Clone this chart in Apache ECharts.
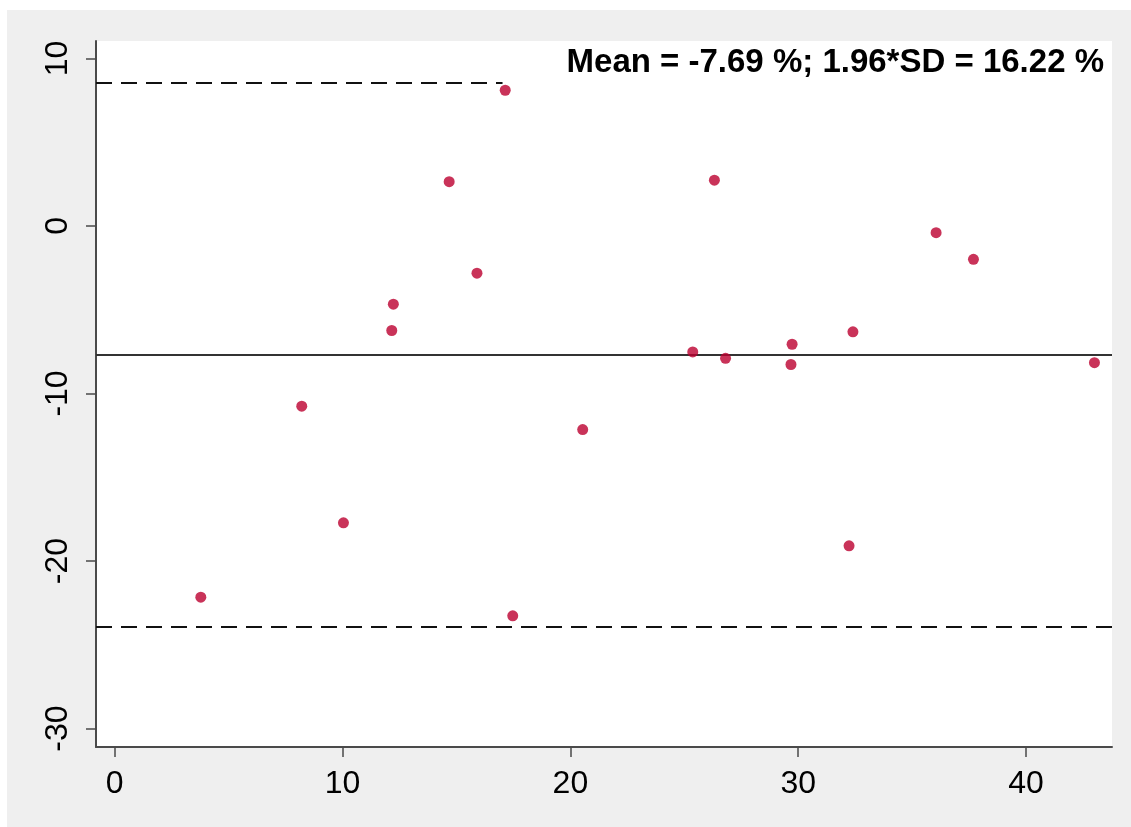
<!DOCTYPE html>
<html>
<head>
<meta charset="utf-8">
<title>Bland-Altman plot</title>
<script src="https://cdn.jsdelivr.net/npm/echarts@6/dist/echarts.min.js"></script>
<style>
  html, body { margin: 0; padding: 0; background: #ffffff; }
  #chart { position: absolute; left: 7px; top: 10px; width: 1124px; height: 817px; }
</style>
</head>
<body>
<div id="chart"></div>
<script>
// Average of the two measurements (x) and their difference in % (y)
const meanValues = [17.14, 14.68, 15.90, 12.23, 12.16, 3.78, 8.21, 10.04, 17.47, 20.54,
                    26.32, 25.37, 26.81, 29.73, 29.68, 32.40, 36.05, 37.69, 43.00, 32.23];
const diffValues = [8.10, 2.64, -2.82, -4.67, -6.24, -22.16, -10.76, -17.72, -23.27, -12.15,
                    2.73, -7.52, -7.90, -7.06, -8.27, -6.32, -0.40, -1.99, -8.16, -19.09];

// Summary statistics
const meanDiff = -7.69;
const sd196 = 16.22;
const upperLimit = +(meanDiff + sd196).toFixed(2);
const lowerLimit = +(meanDiff - sd196).toFixed(2);

// Tick labels
const xTicks = [0, 10, 20, 30, 40];
const yTicks = [-30, -20, -10, 0, 10];

const points = meanValues.map((x, i) => [x, diffValues[i]]);
const annotation = 'Mean = ' + meanDiff.toFixed(2) + ' %; 1.96*SD = ' + sd196.toFixed(2) + ' %';

const FONT = '"Liberation Sans", Arial, sans-serif';
const AXIS_COLOR = '#4a4a4a';

const chart = echarts.init(document.getElementById('chart'), null, { renderer: 'canvas' });

chart.setOption({
  backgroundColor: '#efefef',
  animation: false,
  grid: {
    left: 89, right: 19, top: 31, bottom: 80,
    show: true, backgroundColor: '#ffffff', borderWidth: 0
  },
  xAxis: {
    type: 'value',
    min: -0.82, max: 43.77,
    splitLine: { show: false },
    axisLine: { show: true, onZero: false, lineStyle: { color: AXIS_COLOR, width: 2 } },
    axisTick: { show: true, length: 10, customValues: xTicks, lineStyle: { color: AXIS_COLOR, width: 1.5 } },
    axisLabel: { customValues: xTicks, fontSize: 32, color: '#000', fontFamily: FONT, margin: 21 }
  },
  yAxis: {
    type: 'value',
    min: -31.1, max: 11.04,
    splitLine: { show: false },
    axisLine: { show: true, onZero: false, lineStyle: { color: AXIS_COLOR, width: 2 } },
    axisTick: { show: true, length: 10, customValues: yTicks, lineStyle: { color: AXIS_COLOR, width: 1.5 } },
    axisLabel: { customValues: yTicks, fontSize: 32, color: '#000', fontFamily: FONT, margin: 22, rotate: 90 }
  },
  graphic: [{
    // statistics box; its white background masks the upper limit line
    type: 'text',
    z: 3,
    right: 19,
    top: 31,
    style: {
      text: annotation,
      font: 'bold 33px ' + FONT,
      fill: '#000',
      backgroundColor: '#ffffff',
      padding: [5, 8, 14, 64]
    }
  }],
  series: [
    {
      // mean difference and limits of agreement
      type: 'line',
      z: 1,
      data: [],
      silent: true,
      markLine: {
        z: 1,
        silent: true,
        symbol: ['none', 'none'],
        label: { show: false },
        data: [
          { yAxis: meanDiff, lineStyle: { type: 'solid', color: '#333', width: 1.8 } },
          { yAxis: upperLimit, lineStyle: { type: [16, 9], color: '#111', width: 1.8 } },
          { yAxis: lowerLimit, lineStyle: { type: [16, 9], color: '#111', width: 1.8 } }
        ]
      }
    },
    {
      type: 'scatter',
      z: 5,
      data: points,
      symbol: 'circle',
      symbolSize: 11,
      itemStyle: { color: '#bb0030' }
    }
  ]
});
</script>
</body>
</html>
